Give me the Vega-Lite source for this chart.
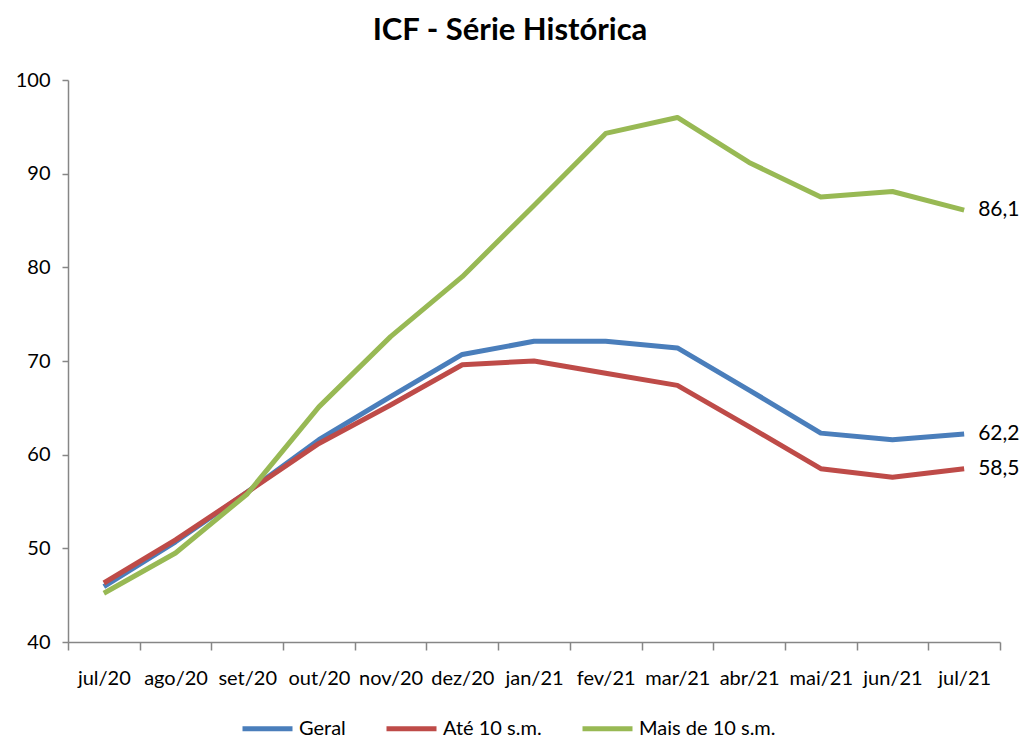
{
  "$schema": "https://vega.github.io/schema/vega-lite/v6.json",
  "width": 932,
  "height": 562,
  "autosize": {"type": "none"},
  "padding": {"left": 68, "top": 80, "right": 20, "bottom": 98},
  "background": "white",
  "config": {
    "font": "Lato",
    "locale": {"number": {"decimal": ",", "thousands": ".", "grouping": [3], "currency": ["R$", ""]}},
    "view": {"stroke": null},
    "axis": {"grid": false, "domainColor": "#868686", "tickColor": "#868686", "domainWidth": 1.5, "tickWidth": 1.5, "labelColor": "#000000", "labelFont": "Lato", "labelFontSize": 20, "title": null}
  },
  "title": {"text": "ICF - Série Histórica", "fontSize": 31, "fontWeight": "bold", "font": "Lato", "color": "#000000", "offset": 23, "dx": -24},
  "data": {"values": [
    {"month": "jul/20", "series": "Geral", "value": 45.9},
    {"month": "ago/20", "series": "Geral", "value": 50.7},
    {"month": "set/20", "series": "Geral", "value": 56.0},
    {"month": "out/20", "series": "Geral", "value": 61.6},
    {"month": "nov/20", "series": "Geral", "value": 66.2},
    {"month": "dez/20", "series": "Geral", "value": 70.7},
    {"month": "jan/21", "series": "Geral", "value": 72.1},
    {"month": "fev/21", "series": "Geral", "value": 72.1},
    {"month": "mar/21", "series": "Geral", "value": 71.4},
    {"month": "abr/21", "series": "Geral", "value": 66.9},
    {"month": "mai/21", "series": "Geral", "value": 62.3},
    {"month": "jun/21", "series": "Geral", "value": 61.6},
    {"month": "jul/21", "series": "Geral", "value": 62.2},
    {"month": "jul/20", "series": "Até 10 s.m.", "value": 46.3},
    {"month": "ago/20", "series": "Até 10 s.m.", "value": 50.9},
    {"month": "set/20", "series": "Até 10 s.m.", "value": 56.0},
    {"month": "out/20", "series": "Até 10 s.m.", "value": 61.2},
    {"month": "nov/20", "series": "Até 10 s.m.", "value": 65.3},
    {"month": "dez/20", "series": "Até 10 s.m.", "value": 69.6},
    {"month": "jan/21", "series": "Até 10 s.m.", "value": 70.0},
    {"month": "fev/21", "series": "Até 10 s.m.", "value": 68.7},
    {"month": "mar/21", "series": "Até 10 s.m.", "value": 67.4},
    {"month": "abr/21", "series": "Até 10 s.m.", "value": 63.0},
    {"month": "mai/21", "series": "Até 10 s.m.", "value": 58.5},
    {"month": "jun/21", "series": "Até 10 s.m.", "value": 57.6},
    {"month": "jul/21", "series": "Até 10 s.m.", "value": 58.5},
    {"month": "jul/20", "series": "Mais de 10 s.m.", "value": 45.2},
    {"month": "ago/20", "series": "Mais de 10 s.m.", "value": 49.5},
    {"month": "set/20", "series": "Mais de 10 s.m.", "value": 55.8},
    {"month": "out/20", "series": "Mais de 10 s.m.", "value": 65.1},
    {"month": "nov/20", "series": "Mais de 10 s.m.", "value": 72.6},
    {"month": "dez/20", "series": "Mais de 10 s.m.", "value": 79.0},
    {"month": "jan/21", "series": "Mais de 10 s.m.", "value": 86.6},
    {"month": "fev/21", "series": "Mais de 10 s.m.", "value": 94.3},
    {"month": "mar/21", "series": "Mais de 10 s.m.", "value": 96.0},
    {"month": "abr/21", "series": "Mais de 10 s.m.", "value": 91.2},
    {"month": "mai/21", "series": "Mais de 10 s.m.", "value": 87.5},
    {"month": "jun/21", "series": "Mais de 10 s.m.", "value": 88.1},
    {"month": "jul/21", "series": "Mais de 10 s.m.", "value": 86.1}
  ]},
  "encoding": {
    "x": {
      "field": "month", "type": "ordinal", "bandPosition": 0.5,
      "sort": ["jul/20","ago/20","set/20","out/20","nov/20","dez/20","jan/21","fev/21","mar/21","abr/21","mai/21","jun/21","jul/21"],
      "scale": {"type": "band", "paddingInner": 0, "paddingOuter": 0},
      "axis": {"tickBand": "extent", "labelAngle": 0, "tickSize": 8, "labelPadding": 18, "labelAlign": "center"}
    },
    "y": {
      "field": "value", "type": "quantitative",
      "scale": {"domain": [40, 100], "nice": false, "zero": false},
      "axis": {"values": [40, 50, 60, 70, 80, 90, 100], "tickSize": 6, "labelPadding": 12}
    },
    "color": {
      "field": "series", "type": "nominal",
      "scale": {"domain": ["Geral", "Até 10 s.m.", "Mais de 10 s.m."], "range": ["#4A7EBB", "#BE4B48", "#98B954"]},
      "legend": {
        "title": null, "orient": "none", "direction": "horizontal", "legendX": 172, "legendY": 621,
        "symbolType": "stroke", "symbolSize": 2500, "symbolStrokeWidth": 5,
        "labelFontSize": 20, "labelFont": "Lato", "labelColor": "#000000", "labelOffset": 4, "columnPadding": 30
      }
    }
  },
  "layer": [
    {"mark": {"type": "line", "strokeWidth": 5, "strokeJoin": "round"}},
    {
      "transform": [{"filter": "datum.month === 'jul/21'"}],
      "mark": {"type": "text", "align": "left", "dx": 14, "fontSize": 21, "font": "Lato", "color": "#000000"},
      "encoding": {
        "text": {"field": "value", "type": "quantitative", "format": ".1f"},
        "color": {"value": "#000000"}
      }
    }
  ]
}
